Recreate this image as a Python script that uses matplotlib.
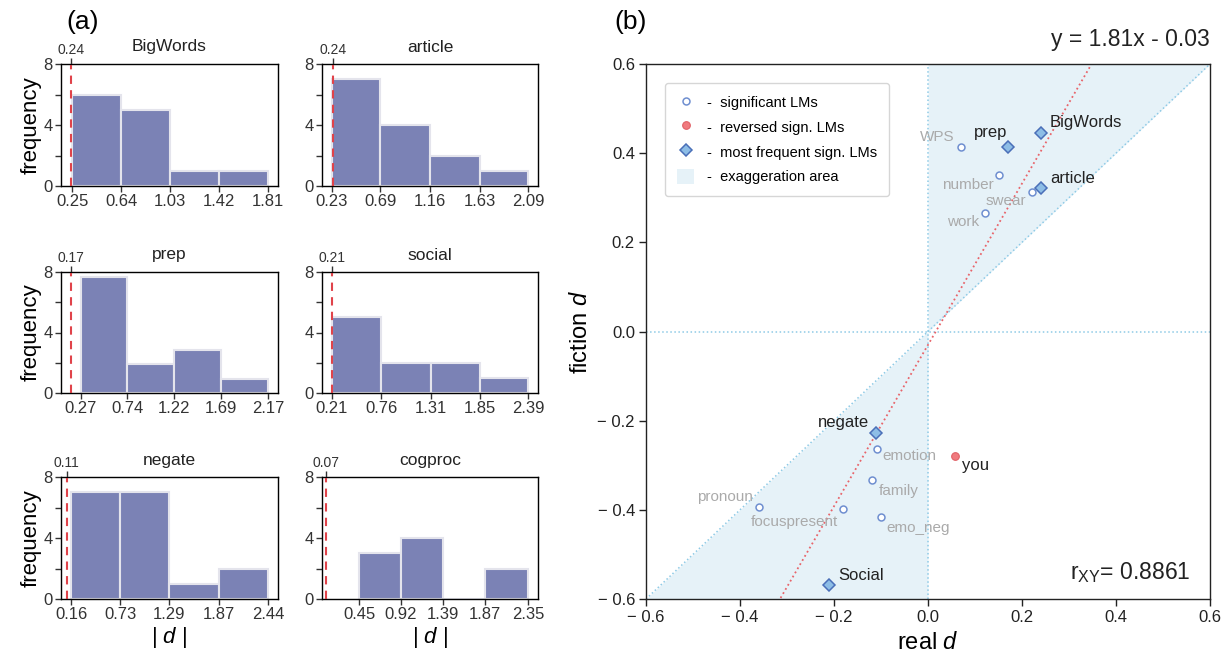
import numpy as np
import matplotlib
matplotlib.use("Agg")
import matplotlib.pyplot as plt
from matplotlib.lines import Line2D
from matplotlib.patches import Patch

plt.rcParams['font.family'] = ['Liberation Sans', 'DejaVu Sans']
plt.rcParams['mathtext.fontset'] = 'custom'
plt.rcParams['mathtext.rm'] = 'Liberation Sans'
plt.rcParams['mathtext.it'] = 'Liberation Sans:italic'
plt.rcParams['axes.unicode_minus'] = True

# ---------------- data: histograms ----------------
hist_titles = ["BigWords", "article", "prep", "social", "negate", "cogproc"]
hist_thresholds = [0.24, 0.24, 0.17, 0.21, 0.11, 0.07]
edges_bigwords = [0.25, 0.64, 1.03, 1.42, 1.81]
edges_article = [0.23, 0.69, 1.16, 1.63, 2.09]
edges_prep = [0.27, 0.74, 1.22, 1.69, 2.17]
edges_social = [0.21, 0.76, 1.31, 1.85, 2.39]
edges_negate = [0.16, 0.73, 1.29, 1.87, 2.44]
edges_cogproc = [0.45, 0.92, 1.39, 1.87, 2.35]
counts_bigwords = [6, 5, 1, 1]
counts_article = [7, 4, 2, 1]
counts_prep = [7.7, 1.9, 2.85, 0.9]
counts_social = [5, 2, 2, 1]
counts_negate = [7, 7, 1, 2]
counts_cogproc = [3, 4, 0, 2]
hist_edges = [edges_bigwords, edges_article, edges_prep, edges_social, edges_negate, edges_cogproc]
hist_counts = [counts_bigwords, counts_article, counts_prep, counts_social, counts_negate, counts_cogproc]

# ---------------- data: scatter ----------------
sig_names = ["WPS", "number", "swear", "work", "emotion", "family", "pronoun", "focuspresent", "emo_neg"]
sig_x = [0.070, 0.150, 0.221, 0.121, -0.109, -0.120, -0.360, -0.180, -0.100]
sig_y = [0.414, 0.352, 0.314, 0.265, -0.264, -0.333, -0.394, -0.398, -0.417]
rev_names = ["you"]
rev_x = [0.058]
rev_y = [-0.279]
freq_names = ["BigWords", "prep", "article", "negate", "Social"]
freq_x = [0.240, 0.170, 0.240, -0.110, -0.210]
freq_y = [0.446, 0.413, 0.322, -0.227, -0.569]
fit_slope = 1.81
fit_intercept = -0.03
r_xy = 0.8861

# label offsets (points) and alignment -- styling only
sig_offsets = {"WPS": (-4.3, 7.2, 'right'), "number": (-3.6, -7.2, 'right'),
               "swear": (-4.3, -7.0, 'right'), "work": (-4.3, -6.5, 'right'),
               "emotion": (4.3, -5.0, 'left'), "family": (5.0, -7.9, 'left'),
               "pronoun": (-4.3, 7.2, 'right'), "focuspresent": (-3.6, -9.4, 'right'),
               "emo_neg": (3.6, -7.9, 'left')}
rev_offsets = {"you": (5.0, -7.2, 'left')}
freq_offsets = {"BigWords": (6.5, 7.0, 'left'), "prep": (-0.5, 10.8, 'right'),
                "article": (6.5, 6.5, 'left'), "negate": (-5.0, 7.2, 'right'),
                "Social": (6.5, 7.2, 'left')}

# ---------------- figure ----------------
W, H = 1225, 659
fig = plt.figure(figsize=(W / 100, H / 100), dpi=100)

def fr(x0, y0, x1, y1):
    return [x0 / W, 1 - y1 / H, (x1 - x0) / W, (y1 - y0) / H]

col_x = [(61, 278), (322, 538)]
row_y = [(64, 186), (272, 393), (477, 599)]

bar_color = "#7b82b5"
bar_edge = "#e4e4ec"
red = "#e0434a"
spine_col = "#333333"

for i, (title, thr, edges, counts) in enumerate(zip(hist_titles, hist_thresholds, hist_edges, hist_counts)):
    r, c = divmod(i, 2)
    ax = fig.add_axes(fr(col_x[c][0], row_y[r][0], col_x[c][1], row_y[r][1]))
    edges = np.asarray(edges)
    ax.bar(edges[:-1], counts, width=np.diff(edges), align='edge',
           color=bar_color, edgecolor=bar_edge, linewidth=1.5, zorder=2)
    lo = min(thr, edges[0])
    span = edges[-1] - lo
    left = max(lo - 0.05 * span, 0.4 * thr)
    right = edges[-1] + 0.05 * span
    ax.set_xlim(left, right)
    ax.set_ylim(0, 8)
    ax.axvline(thr, color=red, ls=(0, (4, 3)), lw=1.5, zorder=3)
    ax.set_xticks(edges)
    ax.set_xticklabels([f"{e:.2f}" for e in edges])
    ax.set_yticks([0, 2, 4, 6, 8])
    ax.set_yticklabels(["0", "", "4", "", "8"])
    ax.tick_params(labelsize=12, length=4, width=1, colors=spine_col, pad=2)
    for s in ax.spines.values():
        s.set_color(spine_col)
        s.set_linewidth(1.0)
    top = ax.twiny()
    top.set_xlim(ax.get_xlim())
    top.set_xticks([thr])
    top.set_xticklabels([f"{thr:.2f}"])
    top.tick_params(labelsize=10, length=4, width=1, colors=spine_col, pad=1)
    ax.set_title(title, fontsize=12.5, y=1.0, pad=9, color="#222222")
    if c == 0:
        ax.set_ylabel("frequency", fontsize=16, labelpad=1)
    if r == 2:
        ax.set_xlabel(r"| $d$ |", fontsize=16, labelpad=2)

fig.text(66 / W, 1 - 22 / H, "(a)", fontsize=19, va='center', ha='left')
fig.text(614 / W, 1 - 22 / H, "(b)", fontsize=19, va='center', ha='left')

# ---------------- scatter panel ----------------
ax = fig.add_axes(fr(646, 64, 1210, 599))
ax.set_xlim(-0.6, 0.6)
ax.set_ylim(-0.6, 0.6)
shade = "#e6f2f8"
lb = "#8ecae6"
ax.fill_between([0, 0.6], [0, 0.6], [0.6, 0.6], color=shade, lw=0, zorder=0)
ax.fill_between([-0.6, 0], [-0.6, -0.6], [-0.6, 0], color=shade, lw=0, zorder=0)
ax.plot([-0.6, 0.6], [-0.6, 0.6], color=lb, ls=':', lw=1.1, zorder=1)
ax.axvline(0, color=lb, ls=':', lw=1.1, zorder=1)
ax.axhline(0, color=lb, ls=':', lw=1.1, zorder=1)
fx = np.array([-0.6, 0.6])
ax.plot(fx, fit_slope * fx + fit_intercept, color="#e8646a", ls=':', lw=1.3, zorder=2)

ax.plot(sig_x, sig_y, 'o', ms=5, mfc='white', mec="#6f8fd0", mew=1.1, ls='none', zorder=4)
ax.plot(rev_x, rev_y, 'o', ms=5.5, mfc="#f07a7e", mec="#e06066", mew=0.8, ls='none', zorder=4)
ax.plot(freq_x, freq_y, 'D', ms=6.5, mfc="#8dbde6", mec="#4a6fb8", mew=1.1, ls='none', zorder=5)

for n, x, y in zip(sig_names, sig_x, sig_y):
    dx, dy, ha = sig_offsets[n]
    ax.annotate(n, (x, y), xytext=(dx, dy), textcoords='offset points',
                ha=ha, va='center', fontsize=11, color="#aaaaaa", zorder=6)
for n, x, y in zip(rev_names, rev_x, rev_y):
    dx, dy, ha = rev_offsets[n]
    ax.annotate(n, (x, y), xytext=(dx, dy), textcoords='offset points',
                ha=ha, va='center', fontsize=12, color="#222222", zorder=6)
for n, x, y in zip(freq_names, freq_x, freq_y):
    dx, dy, ha = freq_offsets[n]
    ax.annotate(n, (x, y), xytext=(dx, dy), textcoords='offset points',
                ha=ha, va='center', fontsize=12, color="#222222", zorder=6)

ticks = [-0.6, -0.4, -0.2, 0.0, 0.2, 0.4, 0.6]
labels = [("\u2212 " + f"{abs(t):.1f}") if t < 0 else f"{t:.1f}" for t in ticks]
ax.set_xticks(ticks)
ax.set_xticklabels(labels)
ax.set_yticks(ticks)
ax.set_yticklabels(labels)
ax.tick_params(labelsize=12, length=5, width=1, colors="#222222", pad=3)
for s in ax.spines.values():
    s.set_color("#222222")
    s.set_linewidth(1.0)
ax.set_xlabel(r"real $d$", fontsize=17, labelpad=5)
ax.set_ylabel(r"fiction $d$", fontsize=17, labelpad=4)

ax.text(1.0, 1.025, f"y = {fit_slope:.2f}x - {abs(fit_intercept):.2f}", transform=ax.transAxes,
        ha='right', va='bottom', fontsize=16.5, color="#222222")
ax.text(0.965, 0.05, r"$\mathrm{r_{XY}}$" + f"= {r_xy:.4f}", transform=ax.transAxes,
        ha='right', va='center', fontsize=16.5, color="#222222")

handles = [
    Line2D([], [], marker='o', ls='none', ms=5, mfc='white', mec="#6f8fd0", mew=1.1),
    Line2D([], [], marker='o', ls='none', ms=5.5, mfc="#f07a7e", mec="#e06066", mew=0.8),
    Line2D([], [], marker='D', ls='none', ms=6.5, mfc="#8dbde6", mec="#4a6fb8", mew=1.1),
    Patch(facecolor=shade, edgecolor='none'),
]
leg_labels = ["-  significant LMs", "-  reversed sign. LMs", "-  most frequent sign. LMs", "-  exaggeration area"]
leg = ax.legend(handles, leg_labels, loc='upper left', bbox_to_anchor=(0.034, 0.965),
                borderaxespad=0, fontsize=10.5, frameon=True, fancybox=True,
                handlelength=1.2, handleheight=1.2, handletextpad=0.9, labelspacing=0.65,
                borderpad=0.8)
leg.get_frame().set_edgecolor("#cccccc")
leg.get_frame().set_linewidth(1.0)

fig.savefig("out.png", dpi=100)
